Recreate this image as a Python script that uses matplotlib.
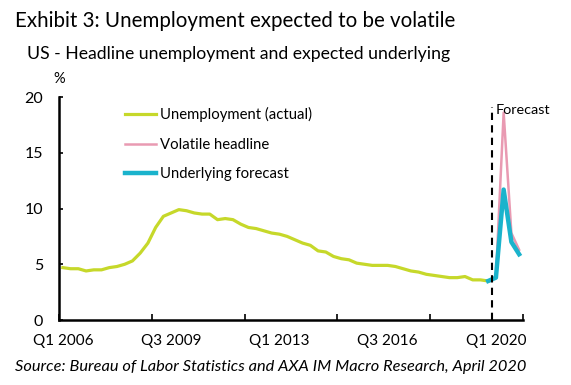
import numpy as np
import matplotlib
matplotlib.use("Agg")
import matplotlib.pyplot as plt

plt.rcParams['font.family'] = ['Lato', 'DejaVu Sans']

# quarterly, Q1 2006 .. Q4 2020
years = list(range(2006, 2021))
quarters = ["Q%d %d" % (q, y) for y in years for q in (1, 2, 3, 4)]

# headline unemployment rate (%), Q1 2006 .. Q4 2019
actual = [4.7, 4.6, 4.6, 4.4,
          4.5, 4.5, 4.7, 4.8,
          5.0, 5.3, 6.0, 6.9,
          8.3, 9.3, 9.6, 9.9,
          9.8, 9.6, 9.5, 9.5,
          9.0, 9.1, 9.0, 8.6,
          8.3, 8.2, 8.0, 7.8,
          7.7, 7.5, 7.2, 6.9,
          6.7, 6.2, 6.1, 5.7,
          5.5, 5.4, 5.1, 5.0,
          4.9, 4.9, 4.9, 4.8,
          4.6, 4.4, 4.3, 4.1,
          4.0, 3.9, 3.8, 3.8,
          3.9, 3.6, 3.6, 3.5]
# forecasts, Q4 2019 .. Q4 2020
volatile = [3.5, 3.8, 18.6, 7.8, 6.3]
underlying = [3.5, 3.8, 11.7, 7.0, 5.9]

label_quarters = ["Q1 2006", "Q3 2009", "Q1 2013", "Q3 2016", "Q1 2020"]
forecast_start = "Q1 2020"

x = np.arange(len(quarters))
x_act = x[:len(actual)]
x_fc = x[len(actual) - 1:len(actual) - 1 + len(volatile)]

fig = plt.figure(figsize=(5.71, 3.85), dpi=100)
ax = fig.add_axes([0.1033, 0.1688, 0.8126, 0.5792])

ax.plot(x_act, actual, color="#c6d82a", lw=2.3, label="Unemployment (actual)")
ax.plot(x_fc, volatile, color="#e99ab2", lw=1.8, label="Volatile headline")
ax.plot(x_fc, underlying, color="#1ab3cc", lw=3.2, label="Underlying forecast")

fc = quarters.index(forecast_start) - 0.5
ax.vlines(fc, 0, 19.1, colors="black", linestyles=(0, (3.5, 2.5)), lw=1.5)
ax.text(fc + 0.5, 18.8, "Forecast", fontsize=10.4, va="center", ha="left")

ax.set_xlim(-0.5, len(quarters) - 0.5)
ax.set_ylim(0, 20)
ax.set_yticks([0, 5, 10, 15, 20])
ax.tick_params(axis="y", direction="in", length=3, width=1.2, labelsize=11.5, pad=11.5)

ax.set_xticks(np.arange(-0.5, len(quarters), 12))
ax.set_xticklabels([])
ax.tick_params(axis="x", which="major", direction="in", length=4, width=1.2)
ax.set_xticks([quarters.index(q) for q in label_quarters], minor=True)
ax.set_xticklabels(label_quarters, minor=True)
ax.tick_params(axis="x", which="minor", length=0, labelsize=11, pad=10)

for s in ("top", "right"):
    ax.spines[s].set_visible(False)
for s in ("left", "bottom"):
    ax.spines[s].set_linewidth(1.8)

ax.legend(loc="upper left", bbox_to_anchor=(0.142, 0.955), frameon=False,
          fontsize=10.7, handlelength=2.1, handletextpad=0.25,
          labelspacing=1.05, borderaxespad=0, borderpad=0)

fig.text(0.027, 0.946, "Exhibit 3: Unemployment expected to be volatile",
         fontsize=14.8, va="center", ha="left")
fig.text(0.047, 0.861, "US - Headline unemployment and expected underlying",
         fontsize=12.7, va="center", ha="left")
fig.text(0.093, 0.795, "%", fontsize=10.5, va="center", ha="left")
fig.text(0.027, 0.047,
         "Source: Bureau of Labor Statistics and AXA IM Macro Research, April 2020",
         fontsize=11.8, style="italic", va="center", ha="left")

fig.savefig("out.png", dpi=100)
